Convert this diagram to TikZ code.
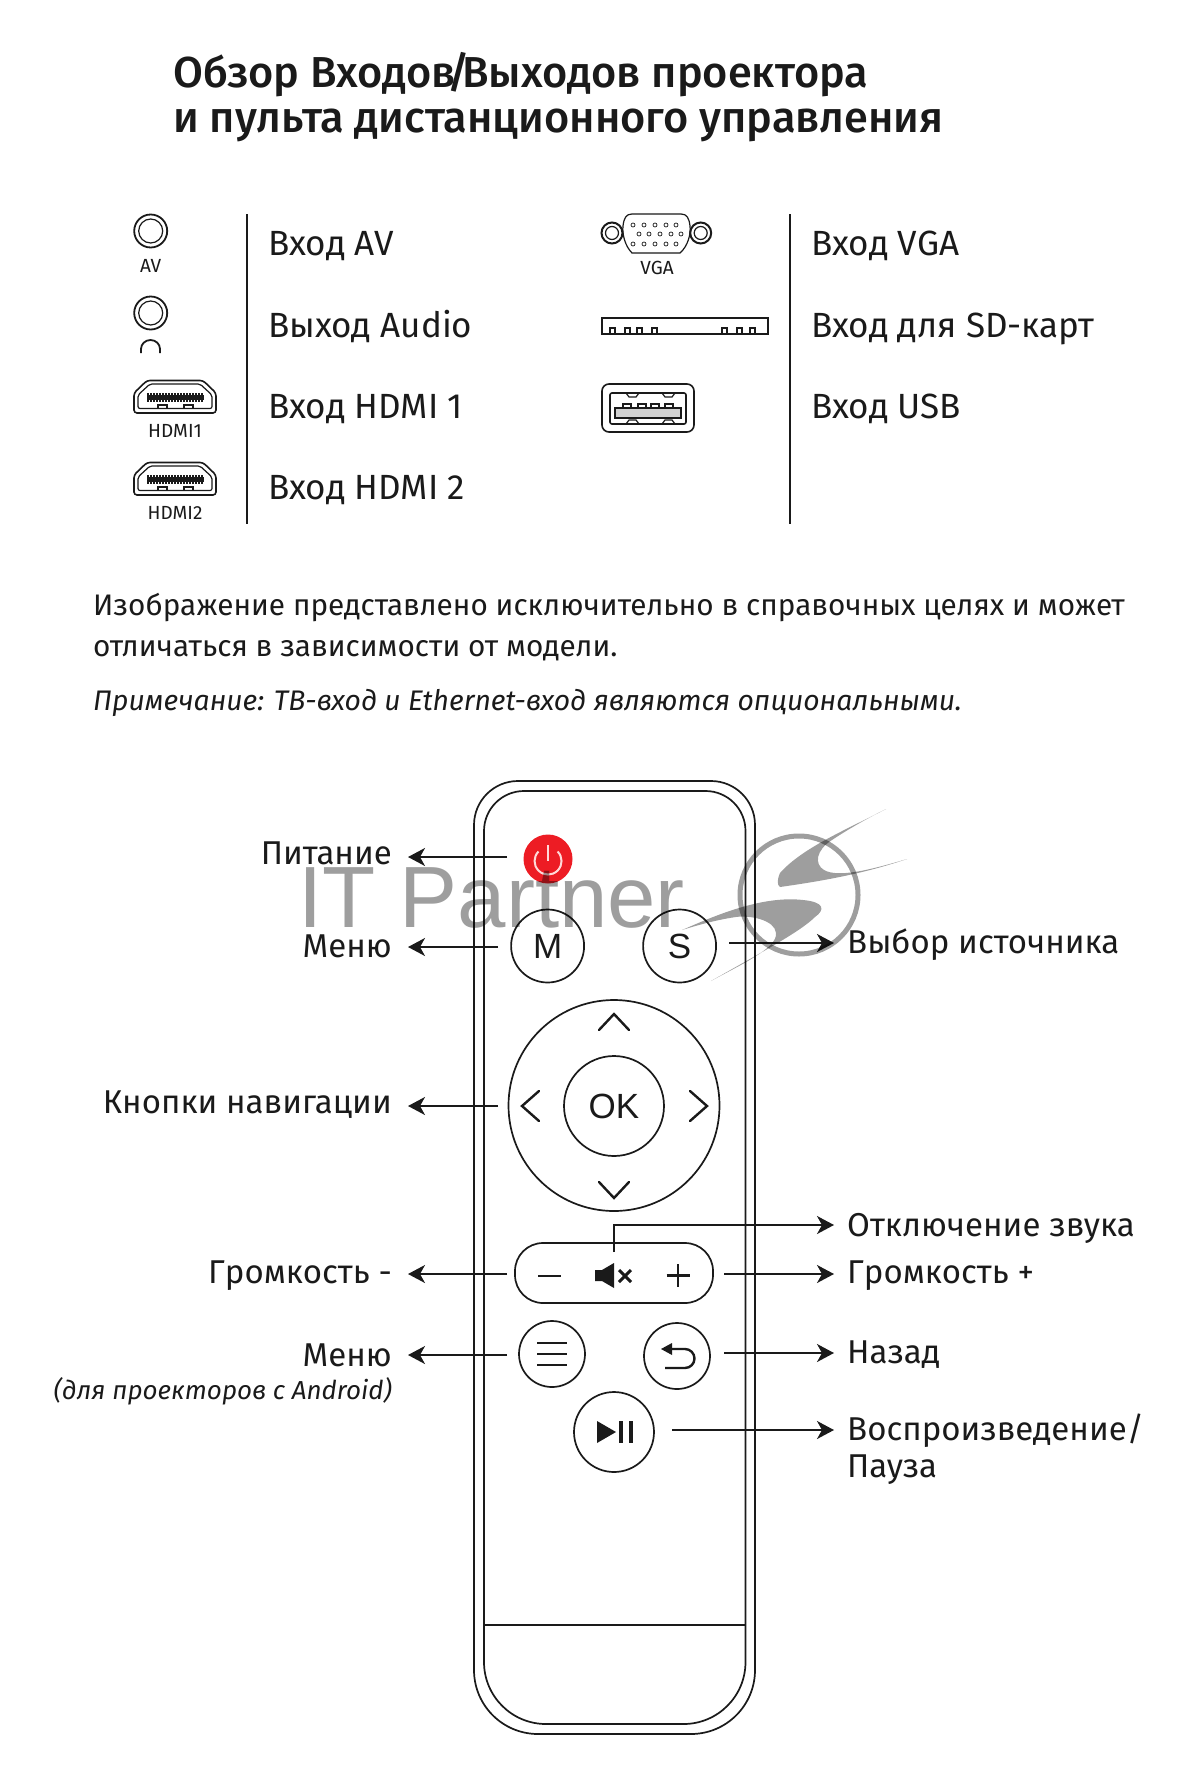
\documentclass[tikz,border=0pt]{standalone}
\usepackage{fontspec}
\setmainfont{Fira Sans}[BoldFont=* Medium]
\newfontfamily\wmfont{Liberation Sans}
\newfontfamily\btnfont{Liberation Sans}
\usetikzlibrary{arrows.meta}
\definecolor{ink}{HTML}{1A1A1A}
\tikzset{
 lab/.style={inner sep=0,font=\fontsize{33}{36}\selectfont,text=ink},
 labl/.style={lab,anchor=west},
 labr/.style={lab,anchor=east},
 tabl/.style={labl,font=\fontsize{35}{38}\selectfont},
 small/.style={inner sep=0,font=\fontsize{19}{22}\selectfont,text=ink},
 para/.style={inner sep=0,anchor=west,font=\fontsize{29.7}{32}\selectfont,text=ink},
 ttl/.style={inner sep=0,anchor=west,font=\fontsize{43.3}{46}\selectfont\bfseries,text=ink},
 btn/.style={circle,draw=ink,line width=1.7pt,inner sep=0},
 btnt/.style={btn,font=\btnfont\fontsize{35}{37}\selectfont,text=ink},
 con/.style={draw=ink,line width=1.8pt,-{Stealth[length=17pt,width=18pt,inset=5pt]}},
 bl/.style={draw=ink,line width=1.7pt},
 chev/.style={bl,line width=2.4pt,line cap=round,line join=miter},
 port/.style={draw=ink,line width=1.2pt},
 wm/.style={fill=black,fill opacity=.38,draw=none},
}
\begin{document}
\begin{tikzpicture}[x=1pt,y=-1pt,line cap=butt]
\useasboundingbox (0,0) rectangle (1192,1790);
\fill[white] (0,0) rectangle (1192,1790);
% title
\node[ttl] (t1) at (173,75) {Обзор Входов\kern-8pt/\kern-8pt Выходов проектора};
\node[ttl] (t2) at (173,125) {и пульта дистанционного управления};
% left ports
\draw[port,line width=2pt] (247,214) -- (247,524);
\draw[port,line width=2pt] (790,214) -- (790,524);
\foreach \y in {231,313}{
 \draw[port,line width=1.8pt] (150.7,\y) circle (16.5);
 \draw[port] (150.7,\y) circle (12);
}
\node[small] (av) at (150.7,266) {AV};
\draw[port,line width=1.8pt] (141,353) -- (141,349) arc (180:360:9.5 and 9) -- (160,353);
\foreach \y/\t [count=\i] in {380/HDMI1,462/HDMI2}{
 \begin{scope}[shift={(0,\y)}]
 \draw[port,line width=1.6pt,rounded corners=3pt] (134,13)--(147,0.5)--(203,0.5)--(216,13)--(216,33)--(134,33)--cycle;
 \draw[port,rounded corners=2pt] (138,15)--(150,4)--(200,4)--(212,15)--(212,28.5)--(138,28.5)--cycle;
 \fill[ink] (147,15) rectangle (204,20);
 \foreach \k in {0,...,18}{\fill[ink] (147+\k*3,13) rectangle +(1.6,9);}
 \draw[port] (148,28.5)--(158,28.5)--(158,25)--(167,25)--(167,28.5)--(184,28.5)--(184,25)--(193,25)--(193,28.5);
 \end{scope}
}
\node[small] (h1) at (175,431) {HDMI1};
\node[small] (h2) at (175,513) {HDMI2};
\node[tabl] (l1) at (268,246) {Вход AV};
\node[tabl] (l2) at (268,326) {Выход Audio};
\node[tabl] (l3) at (268,409) {Вход HDMI 1};
\node[tabl] (l4) at (268,490) {Вход HDMI 2};
% VGA
\foreach \x in {612,700.7}{
 \draw[port,line width=2pt] (\x,233) circle (10.5);
 \draw[port] (\x,233) circle (6.5);
}
\draw[port] (632,214) .. controls (626,214) and (624,218) .. (623,226) .. controls (622,234) and (625,246) .. (632,253) -- (680,253) .. controls (688,246) and (691,234) .. (690,226) .. controls (689,218) and (687,214) .. (681,214) -- cycle;
\foreach \x in {633,644,655,666,676}{
 \draw[port,line width=.7pt] (\x,225) circle (2);
 \draw[port,line width=.7pt] (\x,244) circle (2);
}
\foreach \x in {639,649,660,671,681}{\draw[port,line width=.7pt] (\x,234) circle (2);}
\node[small] (vga) at (657,268) {VGA};
% SD
\draw[port,line width=2.4pt] (602,318) rectangle (768,334);
\foreach \x in {610,625,637,652,722,737,750}{
 \draw[port] (\x,334) -- (\x,328) -- (\x+5,328) -- (\x+5,334);
}
% USB
\draw[port,line width=1.6pt,rounded corners=7pt] (602,384) rectangle (694,432);
\draw[port,line width=1.6pt,rounded corners=2pt] (610,393) -- (686,393) -- (686,424) -- (610,424) -- cycle;
\draw[port,line width=1.6pt] (615,408) rectangle (681,418);
\fill[gray!35] (616,409) rectangle (680,417);
\foreach \x in {623,638,651,665}{\draw[port] (\x,408) -- (\x,404) -- (\x+8,404) -- (\x+8,408);}
\foreach \x in {626,662}{
 \draw[port] (\x,393) -- (\x+3,397) -- (\x+10,397) -- (\x+13,393);
 \draw[port] (\x,424) -- (\x+3,420) -- (\x+10,420) -- (\x+13,424);
}
\node[tabl] (r1) at (811,246) {Вход VGA};
\node[tabl] (r2) at (811,329) {Вход для SD-карт};
\node[tabl] (r3) at (811,409) {Вход USB};
% paragraph
\node[para] (p1) at (93,608) {Изображение представлено исключительно в справочных целях и может};
\node[para] (p2) at (93,651) {отличаться в зависимости от модели.};
\node[para,font=\fontsize{28.3}{32}\selectfont\itshape] (p3) at (93,703) {Примечание: ТВ-вход и Ethernet-вход являются опциональными.};
% remote
\draw[bl] (474,1200) [rounded corners=44pt] -- (474,781) -- (755,781) -- (755,1200) [rounded corners=64pt] -- (755,1734) -- (474,1734) -- cycle;
\draw[bl] (484,1200) [rounded corners=40pt] -- (484,791) -- (745.5,791) -- (745.5,1200) [rounded corners=62pt] -- (745.5,1724) -- (484,1724) -- cycle;
\draw[bl] (484,1625) -- (745.5,1625);
% power
\node[btn,draw=none,fill={rgb,255:red,237;green,28;blue,36},minimum size=49pt] (power) at (548,859) {};
\draw[white!85!red,line width=2pt] (548,845) -- (548,861);
\draw[white!85!red,line width=2pt] (538.5,851.5) arc (225:-45:13.5);
\node[btnt,minimum size=73pt] (m) at (547.6,946) {M};
\node[btnt,minimum size=73pt] (s) at (679.6,946) {S};
% nav
\node[btn,minimum size=211pt] (nav) at (614,1105.5) {};
\node[btnt,minimum size=100pt] (ok) at (614,1106) {OK};
\draw[chev] (599,1030) -- (614,1014) -- (629,1030);
\draw[chev] (599,1182) -- (614,1198) -- (629,1182);
\draw[chev] (539,1091) -- (522,1106) -- (539,1121);
\draw[chev] (690,1091) -- (707,1106) -- (690,1121);
% volume
\node[btn,shape=rectangle,rounded corners=28pt,minimum width=198pt,minimum height=60pt] (vol) at (614,1273) {};
\draw[bl,line width=2.6pt] (538,1276) -- (561,1276);
\draw[bl,line width=2.6pt] (666.5,1275.5) -- (689.5,1275.5) (678,1264) -- (678,1287);
\fill[ink] (595,1270) -- (602,1270) -- (614,1263) -- (614,1288) -- (602,1281) -- (595,1281) -- cycle;
\draw[bl,line width=3pt] (619,1270) -- (631,1282) (631,1270) -- (619,1282);
% menu
\node[btn,minimum size=66pt] (menu) at (552,1354) {};
\draw[bl,line width=2.4pt] (537,1343) -- (567,1343) (537,1354) -- (567,1354) (537,1365) -- (567,1365);
% back
\node[btn,minimum size=66pt] (back) at (677,1356) {};
\fill[ink] (661,1349) -- (672,1343) -- (672,1355) -- cycle;
\draw[bl,line width=2.4pt] (670,1349) -- (685,1349) arc (-90:90:9.5) -- (665,1368);
% play
\node[btn,minimum size=80pt] (play) at (614,1432) {};
\fill[ink] (597,1421) -- (616,1432) -- (597,1443) -- cycle;
\draw[bl,line width=3.4pt] (621,1421) -- (621,1443) (631,1421) -- (631,1443);
% connectors
\coordinate (cp1) at (507,857); \coordinate (ep1) at (408,857);
\coordinate (cm1) at (498,947); \coordinate (em1) at (408,947);
\coordinate (cn1) at (498,1106); \coordinate (en1) at (408,1106);
\coordinate (cv1) at (507,1274); \coordinate (ev1) at (408,1274);
\coordinate (ca1) at (507,1355); \coordinate (ea1) at (408,1355);
\coordinate (cs1) at (729,943); \coordinate (es1) at (834,943);
\coordinate (cu1) at (614,1252); \coordinate (cu2) at (614,1225); \coordinate (eu1) at (834,1225);
\coordinate (cw1) at (724,1274); \coordinate (ew1) at (834,1274);
\coordinate (cb1) at (724,1353); \coordinate (eb1) at (834,1353);
\coordinate (cy1) at (672,1430); \coordinate (ey1) at (834,1430);
\draw[con] (cp1) -- (ep1);
\draw[con] (cm1) -- (em1);
\draw[con] (cn1) -- (en1);
\draw[con] (cv1) -- (ev1);
\draw[con] (ca1) -- (ea1);
\draw[con] (cs1) -- (es1);
\draw[con] (cu1) -- (cu2) -- (eu1);
\draw[con] (cw1) -- (ew1);
\draw[con] (cb1) -- (eb1);
\draw[con] (cy1) -- (ey1);
% remote labels
\node[labr] (a1) at (392,853) {Питание};
\node[labr] (a2) at (392,946) {Меню};
\node[labr] (a3) at (392,1105) {Кнопки навигации};
\node[labr] (a4) at (392,1276) {Громкость -};
\node[labr] (a5) at (392,1355) {Меню};
\node[inner sep=0,anchor=east,font=\fontsize{26}{30}\selectfont\itshape,text=ink] (a6) at (392,1391) {(для проекторов с Android)};
\node[labl] (b1) at (847,945) {Выбор источника};
\node[labl] (b2) at (847,1228) {Отключение звука};
\node[labl] (b3) at (847,1276) {Громкость +};
\node[labl] (b4) at (847,1355) {Назад};
\node[labl] (b5) at (847,1431) {Воспроизведение/};
\node[labl] (b6) at (847,1470) {Пауза};
% watermark
\node[inner sep=0,anchor=base west,font=\wmfont\fontsize{87}{90}\selectfont,text=black,text opacity=.38] (wmk) at (298,927) {IT Partner};
\draw[black,opacity=.38,line width=5pt] (799,895) circle (59);
\fill[wm] (886,809) .. controls (850,828) and (803,847) .. (780,873) .. controls (777,880) and (777,885) .. (780,887) .. controls (815,882) and (860,875) .. (907,859) .. controls (870,870) and (838,878) .. (824,870) .. controls (814,864) and (816,850) .. (832,840) .. controls (850,828) and (870,817) .. (886,809) -- cycle;
\fill[wm] (682,930) .. controls (710,918) and (760,895) .. (803,900) .. controls (825,902) and (825,910) .. (815,917) .. controls (800,932) and (760,953) .. (711,981) .. controls (740,965) and (778,948) .. (776,933) .. controls (775,920) and (750,915) .. (736,917) .. controls (715,920) and (695,926) .. (682,930) -- cycle;
\end{tikzpicture}
\end{document}
